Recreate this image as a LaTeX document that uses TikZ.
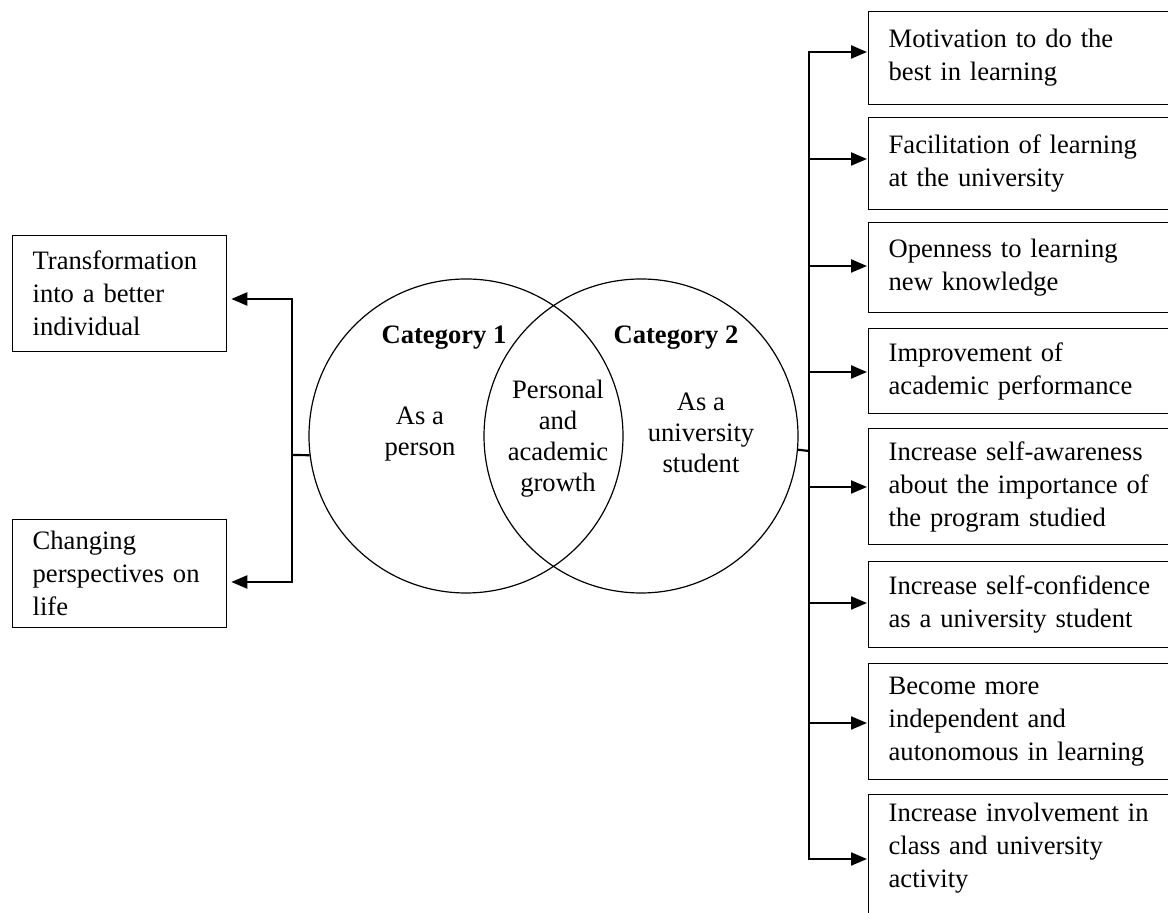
\documentclass[tikz,border=0pt]{standalone}
\usepackage{fontspec}
\setmainfont{Liberation Serif}
\usetikzlibrary{arrows.meta}
\begin{document}
\begin{tikzpicture}[x=0.5pt,y=-0.5pt,
    every node/.style={font=\fontsize{13.3}{16.5}\selectfont},
    box/.style={draw,line width=0.65pt,anchor=north west,align=left,inner xsep=10pt,inner ysep=2pt},
    lbox/.style={box,text width=87pt},
    rbox/.style={box,text width=140pt},
    ring/.style={draw,circle,line width=0.6pt,minimum size=157pt,inner sep=0pt},
    head/.style={font=\fontsize{13.3}{16.5}\selectfont\bfseries},
    inside/.style={align=center,inner sep=0pt,font=\fontsize{13.3}{15.5}\selectfont},
    link/.style={line width=1.1pt},
    arr/.style={link,-{Triangle[length=8pt,width=6.5pt]}}]
\useasboundingbox (0,0) rectangle (1168,913);
\clip (0,0) rectangle (1168,913);
\node [ring] (cat1) at (466,436) {};
\node [ring] (cat2) at (641,436) {};
\node [head] (head1) at (444,338) {Category 1};
\node [head] (head2) at (676,338) {Category 2};
\node [inside] (person) at (420,434) {As a\\person};
\node [inside] (growth) at (558,439) {Personal\\and\\academic\\growth};
\node [inside] (student) at (701,433) {As a\\university\\student};
\node [lbox,minimum height=58pt] (better) at (12,235) {Transformation\\into a better\\individual};
\node [lbox,minimum height=54pt] (life) at (12,519) {Changing\\perspectives on\\life};
\path (868,0)
    +(0,11) node [rbox,minimum height=46.5pt] (motiv) {Motivation to do the\\best in learning}
    +(0,117) node [rbox,minimum height=46pt] (facil) {Facilitation of learning\\at the university}
    +(0,222) node [rbox,minimum height=45pt] (open) {Openness to learning\\new knowledge}
    +(0,328) node [rbox,minimum height=42.5pt] (improv) {Improvement of\\academic performance}
    +(0,428) node [rbox,minimum height=58pt] (aware) {Increase self-awareness\\about the importance of\\the program studied}
    +(0,561) node [rbox,minimum height=43pt] (conf) {Increase self-confidence\\as a university student}
    +(0,663) node [rbox,minimum height=58pt] (indep) {Become more\\independent and\\autonomous in learning}
    +(0,794) node [rbox,inner ysep=4pt,text depth=70pt] (involv) {Increase involvement in\\class and university\\activity};
\coordinate (lfork) at (292,455);
\coordinate (rfork) at (809,451);
\draw [link] (cat1.187) -- (lfork);
\draw [arr] (lfork) |- ([xshift=2pt,yshift=-32pt]better.north east);
\draw [arr] (lfork) |- ([xshift=2pt,yshift=-31.5pt]life.north east);
\draw [link] (cat2.-5) -- (rfork);
\foreach \n/\d in {motiv/20.5,facil/21,open/22,improv/22,aware/29.5,conf/21,indep/30,involv/32.5}
    \draw [arr] (rfork) |- ([xshift=-0.5pt,yshift=-\d pt]\n.north west);
\end{tikzpicture}
\end{document}
